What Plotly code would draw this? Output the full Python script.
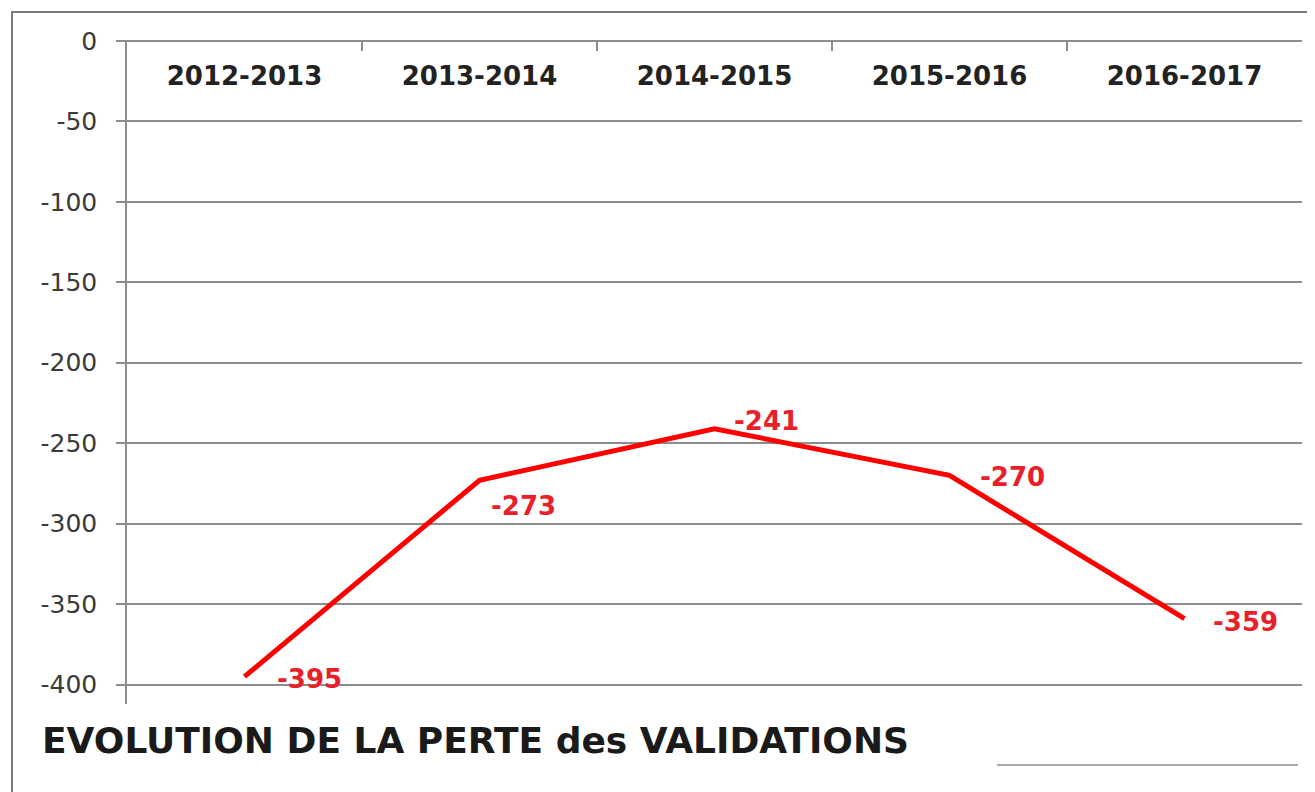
import plotly.graph_objects as go

# ---- data ----
categories = ["2012-2013", "2013-2014", "2014-2015", "2015-2016", "2016-2017"]
values = [-395, -273, -241, -270, -359]
y_ticks = [0, -50, -100, -150, -200, -250, -300, -350, -400]
title_text = "EVOLUTION DE LA PERTE des VALIDATIONS"

# ---- layout geometry (pixels); page body has an 8px margin ----
OFF = 8
W, H = 1315 - OFF, 792 - OFF
L, R, T, B = 127 - OFF, 13, 40 - OFF, 88
pw, ph = W - L - R, H - T - B

def px_x(x):
    return (x - OFF - L) / pw

def px_y(y):
    return (H - B - (y - OFF)) / ph

# label offsets (pixels) relative to each point
label_dx = [30, 9, 17, 28, 26]
label_dy = [-2, -26, 8, -2, -3]

GRID = "#8c8c8c"
RED = "#ff0000"
YRANGE = [-412, 0.5]

fig = go.Figure()
fig.add_trace(go.Scatter(
    x=categories, y=values, mode="lines",
    line=dict(color=RED, width=5),
    hoverinfo="skip", showlegend=False,
))
# invisible trace carrying the category label axis
fig.add_trace(go.Scatter(
    x=categories, y=values, xaxis="x2", yaxis="y2", mode="lines",
    line=dict(color="rgba(0,0,0,0)", width=0),
    hoverinfo="skip", showlegend=False,
))

for c, v, dx, dy in zip(categories, values, label_dx, label_dy):
    fig.add_annotation(
        x=c, y=v, text=f"{v}", showarrow=False,
        xanchor="left", yanchor="middle", xshift=dx, yshift=dy,
        font=dict(family="DejaVu Sans", size=26, color="#e8202a", weight="bold"),
    )

fig.update_layout(
    width=W, height=H,
    margin=dict(l=L, r=R, t=T, b=B, autoexpand=False),
    paper_bgcolor="white", plot_bgcolor="white",
    showlegend=False,
    title=dict(
        text=title_text, xref="container", yref="container",
        x=(42 - OFF) / W, y=1 - (740 - OFF) / H, xanchor="left", yanchor="middle",
        font=dict(family="DejaVu Sans", size=36, color="#1a1a1a", weight="bold"),
    ),
    xaxis=dict(
        type="category", categoryarray=categories, categoryorder="array",
        side="top", range=[-0.5, 4.5], automargin=False,
        tickson="boundaries", ticks="inside", ticklen=11, tickwidth=1.5, tickcolor=GRID,
        showticklabels=False, showgrid=False, showline=False, zeroline=False,
    ),
    xaxis2=dict(
        type="category", categoryarray=categories, categoryorder="array",
        overlaying="x", side="top", range=[-0.5, 4.5], anchor="y2", automargin=False,
        ticks="", showgrid=False, showline=False, zeroline=False,
        ticklabelposition="inside", ticklabelstandoff=24,
        tickfont=dict(family="DejaVu Sans", size=26, color="#222222", weight="bold"),
    ),
    yaxis2=dict(
        overlaying="y", range=YRANGE, anchor="x2", automargin=False,
        showticklabels=False, showgrid=False, zeroline=False, showline=False, ticks="",
    ),
    yaxis=dict(
        range=YRANGE, tickvals=y_ticks, ticktext=[str(t) for t in y_ticks],
        automargin=False,
        showgrid=True, gridcolor=GRID, gridwidth=1.5,
        zeroline=True, zerolinecolor=GRID, zerolinewidth=1.5,
        showline=True, linecolor=GRID, linewidth=1.5,
        ticks="outside", ticklen=9, tickcolor=GRID, tickwidth=1.5,
        ticklabelstandoff=14,
        tickfont=dict(family="DejaVu Sans", size=25, color="#3a3a3a"),
    ),
    shapes=[
        # outer frame
        dict(type="rect", xref="paper", yref="paper",
             x0=px_x(12), x1=px_x(1313), y0=px_y(800), y1=px_y(12),
             line=dict(color="#7a7a7a", width=2), fillcolor="rgba(0,0,0,0)", layer="below"),
        # short line bottom right
        dict(type="line", xref="paper", yref="paper",
             x0=px_x(997), x1=px_x(1298), y0=px_y(765), y1=px_y(765),
             line=dict(color="#8c8c8c", width=1.5)),
    ],
)

fig.write_html("out.html")
